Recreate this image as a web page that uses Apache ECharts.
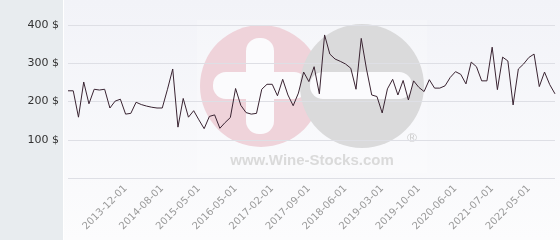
<!DOCTYPE html>
<html>
<head>
<meta charset="utf-8">
<script src="https://cdn.jsdelivr.net/npm/echarts@6/dist/echarts.min.js"></script>
<style>html,body{margin:0;padding:0;background:#fff}#c{width:560px;height:240px}</style>
</head>
<body>
<div id="c"></div>
<script>
const categories = [
'2012-12-01','2013-01-01','2013-02-01','2013-03-01','2013-04-01','2013-05-01','2013-06-01','2013-08-01','2013-09-01','2013-10-01','2013-11-01',
'2013-12-01','2014-01-01','2014-02-01','2014-03-01','2014-05-01','2014-06-01','2014-07-01',
'2014-08-01','2014-09-01','2014-10-01','2014-12-01','2015-01-01','2015-02-01','2015-04-01',
'2015-05-01','2015-06-01','2015-08-01','2015-10-01','2015-12-01','2016-01-01','2016-03-01',
'2016-05-01','2016-06-01','2016-08-01','2016-09-01','2016-10-01','2016-11-01','2016-12-01',
'2017-02-01','2017-03-01','2017-04-01','2017-05-01','2017-06-01','2017-07-01','2017-08-01',
'2017-09-01','2017-10-01','2017-11-01','2017-12-01','2018-01-01','2018-02-01','2018-04-01',
'2018-06-01','2018-07-01','2018-08-01','2018-09-01','2018-10-01','2018-12-01','2019-01-01',
'2019-03-01','2019-04-01','2019-05-01','2019-06-01','2019-07-01','2019-08-01','2019-09-01',
'2019-10-01','2019-11-01','2019-12-01','2020-01-01','2020-02-01','2020-03-01','2020-05-01',
'2020-06-01','2020-08-01','2020-10-01','2020-12-01','2021-01-01','2021-03-01','2021-05-01',
'2021-07-01','2021-08-01','2021-09-01','2021-11-01','2021-12-01','2022-02-01','2022-03-01',
'2022-05-01','2022-06-01','2022-07-01','2022-08-01','2022-09-01','2022-10-01'
];
const prices = [
228,228,159,251,194,232,230,232,183,201,206,
167,169,198,192,188,185,183,
183,232,285,133,208,159,176,
152,129,161,165,130,145,158,
234,190,171,167,169,232,245,
245,215,258,217,189,222,277,
252,291,220,374,324,311,305,
298,287,232,365,285,217,213,
170,233,258,217,255,204,254,
237,226,257,235,235,241,263,
278,271,246,303,291,254,254,
342,231,316,306,191,285,298,
315,324,239,277,244,220
];
const yTicks = [0, 100, 200, 300, 400];
const firstLabelIndex = 11;
const labelStep = 7;

const chart = echarts.init(document.getElementById('c'), null, {renderer: 'canvas'});
const pink = '#efd3da', gray = '#dadadb';
chart.setOption({
  animation: false,
  backgroundColor: new echarts.graphic.LinearGradient(0, 0, 0, 1, [
    {offset: 0, color: '#f2f3f8'}, {offset: 1, color: '#fcfcfd'}
  ]),
  graphic: [
    {type: 'rect', z: -10, shape: {x: 0, y: 0, width: 63, height: 240}, style: {fill: '#e8ecef'}},
    {type: 'rect', z: -10, shape: {x: 63, y: 0, width: 1, height: 240}, style: {fill: '#ffffff'}},
    {type: 'rect', z: -9, shape: {x: 197, y: 20, width: 230, height: 153}, style: {fill: '#ffffff', opacity: 0.22}},
    {type: 'circle', z: -8, shape: {cx: 261, cy: 86, r: 61}, style: {fill: pink}},
    {type: 'rect', z: -8, shape: {x: 246, y: 38, width: 28, height: 96, r: 13}, style: {fill: '#fbfbfd'}},
    {type: 'rect', z: -8, shape: {x: 213, y: 72, width: 94, height: 27, r: 13}, style: {fill: '#fbfbfd'}},
    {type: 'circle', z: -7, shape: {cx: 362, cy: 86, r: 62}, style: {fill: gray}},
    {type: 'rect', z: -7, shape: {x: 310, y: 72, width: 102, height: 27, r: 13}, style: {fill: '#fbfbfd'}},
    {type: 'text', z: -7, x: 312, y: 161, style: {text: 'www.Wine-Stocks.com', font: 'bold 15px "Liberation Sans", Arial, sans-serif', fill: '#dadada', align: 'center', verticalAlign: 'middle'}},
    {type: 'text', z: -7, x: 412, y: 139, style: {text: '®', font: '13px "DejaVu Sans", sans-serif', fill: '#cfcfcf', align: 'center', verticalAlign: 'middle'}}
  ],
  grid: {left: 68, right: 5, top: 25, bottom: 62, containLabel: false},
  xAxis: {
    type: 'category',
    data: categories,
    boundaryGap: false,
    axisLine: {show: false},
    axisTick: {show: false},
    splitLine: {show: false},
    axisLabel: {
      rotate: 45,
      margin: 9,
      color: '#9a9a9a',
      fontSize: 10,
      fontFamily: 'DejaVu Sans',
      interval: (i) => i >= firstLabelIndex && (i - firstLabelIndex) % labelStep === 0
    }
  },
  yAxis: {
    type: 'value',
    min: yTicks[0],
    max: yTicks[yTicks.length - 1],
    interval: 100,
    axisLine: {show: false},
    axisTick: {show: false},
    splitLine: {show: true, lineStyle: {color: '#dedfe5', width: 1}},
    axisLabel: {
      margin: 9,
      color: '#333',
      fontSize: 11,
      fontFamily: 'DejaVu Sans',
      formatter: (v) => v === 0 ? '' : v + ' $'
    }
  },
  series: [{
    type: 'line',
    data: prices,
    symbol: 'none',
    lineStyle: {color: '#3a2432', width: 1},
    z: 5
  }]
});
</script>
</body>
</html>
